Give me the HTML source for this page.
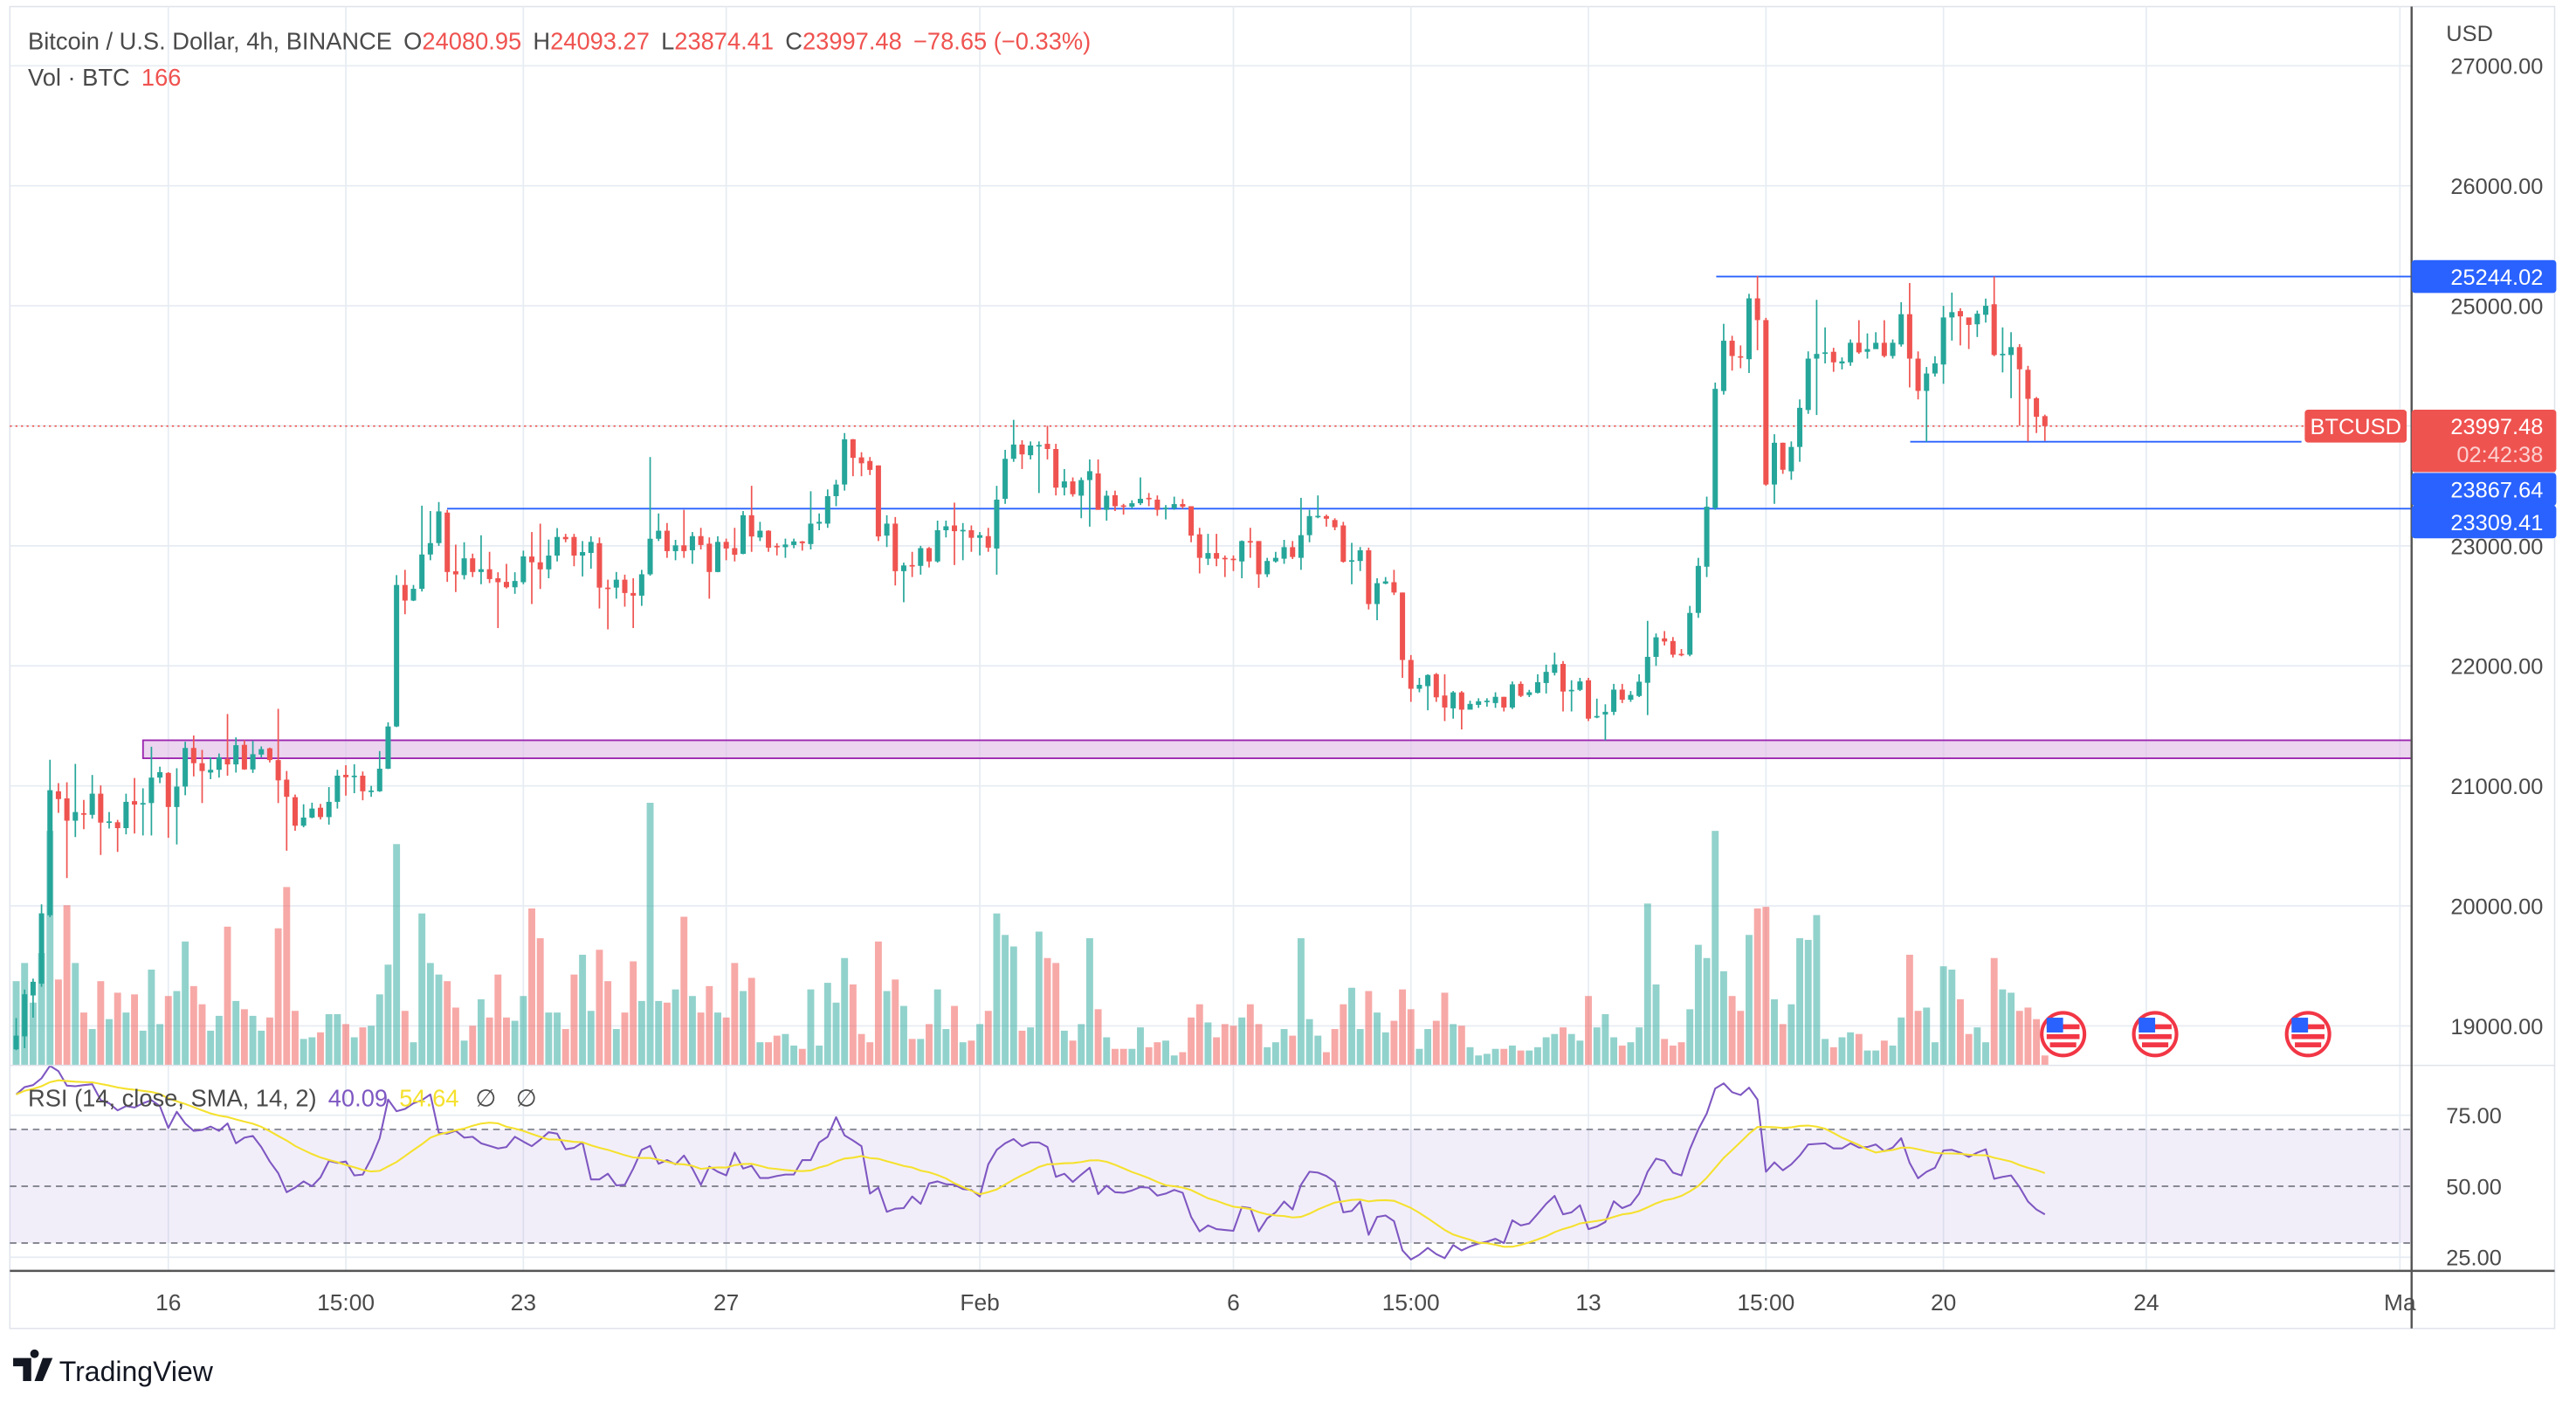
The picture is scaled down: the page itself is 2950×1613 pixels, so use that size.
<!DOCTYPE html>
<html><head><meta charset="utf-8"><title>BTCUSD 4h</title>
<style>
html,body{margin:0;padding:0;background:#fff;}
svg{display:block;font-family:"Liberation Sans",sans-serif;}
</style></head>
<body>
<svg id="chart" width="2950" height="1613" viewBox="0 0 1567 857" preserveAspectRatio="none" xmlns="http://www.w3.org/2000/svg">
<rect x="0" y="0" width="1567" height="857" fill="#fff"/>
<rect x="6" y="4" width="1548" height="804" fill="none" stroke="#e0e3eb" stroke-width="0.8"/>
<g id="grid"></g>
<rect id="rsiBand" x="6" y="684" width="1461" height="69" fill="#7e57c2" fill-opacity="0.1"/>
<g id="rsiLevels"></g>
<g id="vol"></g>
<g id="zones"></g>
<g id="candles"></g>
<g id="rsi"></g>
<line x1="6" y1="648" x2="1554" y2="648" stroke="#e0e3eb" stroke-width="0.8"/>
<line x1="6" y1="773" x2="1554" y2="773" stroke="#555" stroke-width="1.3"/>
<line x1="1467" y1="4" x2="1467" y2="808" stroke="#555" stroke-width="1.3"/>
<g id="axes"></g>
<g id="labels"></g>
<text x="17" y="30" font-size="14.5" fill="#4a4a4a">Bitcoin / U.S. Dollar, 4h, BINANCE<tspan dx="7">O</tspan><tspan fill="#ef5350">24080.95</tspan><tspan dx="7">H</tspan><tspan fill="#ef5350">24093.27</tspan><tspan dx="7">L</tspan><tspan fill="#ef5350">23874.41</tspan><tspan dx="7">C</tspan><tspan fill="#ef5350">23997.48</tspan><tspan dx="7" fill="#ef5350">−78.65 (−0.33%)</tspan></text>
<text x="17" y="52" font-size="14.5" fill="#4a4a4a">Vol · BTC<tspan dx="7" fill="#ef5350">166</tspan></text>
<text x="17" y="673" font-size="14.5" fill="#4a4a4a">RSI (14, close, SMA, 14, 2)<tspan dx="7" fill="#7e57c2">40.09</tspan><tspan dx="7" fill="#f5e12e">54.64</tspan><tspan dx="10">∅</tspan><tspan dx="12">∅</tspan></text>
<g>
<path d="M8 826 h11 v14 h-5 v-9 h-6 z M21 826 a2.6 2.6 0 1 1 0.01 0 z M26 826 h6 l-6 14 h-5 z" fill="#131722"/>
<text x="36" y="840" font-size="17" fill="#131722">TradingView</text>
</g>
</svg>
<script>
// ---- data ----
const opens=[18805,18913,19254,19352,19922,20955,20896,20710,20772,20759,20935,20697,20697,20648,20873,20847,20857,21069,21108,20824,20994,21316,21189,21111,21134,21225,21179,21342,21137,21261,21313,21215,21052,20906,20668,20736,20818,20740,20867,21092,21078,21085,20955,20955,21143,21495,22674,22544,22642,22928,23023,23277,22788,22756,22896,22782,22805,22730,22700,22655,22697,22911,22863,22804,22919,23074,23074,22919,22941,23022,22652,22652,22718,22607,22585,22763,23059,23126,22956,23004,22963,23081,23018,22782,23033,22981,22933,23255,23070,23126,23000,22989,23007,23037,23015,23185,23185,23414,23511,23888,23737,23707,23670,23085,23185,22789,22840,22833,22981,22870,23130,23170,23126,23130,23067,23081,22978,23392,23725,23844,23755,23836,23850,23807,23485,23537,23418,23548,23603,23300,23422,23337,23326,23355,23400,23385,23307,23315,23348,23330,23096,22893,22940,22900,22893,22870,23040,23040,22763,22870,22893,22989,22900,23089,23244,23248,23215,23170,22874,22874,22963,22515,22685,22697,22611,22049,21809,21831,21931,21753,21646,21779,21635,21675,21705,21690,21742,21653,21850,21757,21775,21857,21942,22016,21790,21800,21880,21575,21595,21617,21802,21718,21749,21859,22075,22229,22207,22100,22093,22441,22826,23317,24290,24709,24580,24555,25062,24881,23511,23859,23621,23824,24132,24560,24605,24617,24520,24529,24692,24617,24639,24692,24582,24678,24930,24560,24291,24436,24511,24903,24956,24903,24846,24925,25013,24594,24590,24656,24467,24230,24080.95];
const highs=[19066,19303,19394,20013,21218,21023,21030,21183,20883,21091,21004,20782,20717,20935,21066,20980,21326,21160,21114,21147,21368,21420,21300,21238,21270,21599,21404,21381,21374,21329,21319,21642,21124,20928,20847,20860,20850,20990,21134,21172,21180,21120,21000,21290,21530,22756,22800,22674,23335,23290,23365,23300,23010,23030,22935,23088,22950,22780,22850,22780,22960,23115,23185,23052,23148,23100,23100,23040,23080,23070,22718,22782,22760,22730,22800,23740,23270,23190,23050,23300,23115,23150,23070,23080,23060,23150,23290,23500,23200,23130,23022,23060,23060,23040,23455,23270,23470,23550,23940,23890,23780,23740,23670,23255,23240,22860,22950,23000,22990,23210,23210,23360,23190,23170,23115,23150,23500,23800,24050,23880,23870,23870,24000,23850,23640,23570,23570,23720,23720,23460,23460,23350,23380,23570,23440,23420,23340,23410,23390,23330,23150,23100,23100,22920,22920,23045,23150,23040,22900,22950,23050,23040,23400,23300,23420,23260,23230,23200,23025,22990,22985,22730,22740,22800,22611,22090,21900,21930,21940,21930,21790,21790,21710,21730,21730,21780,21742,21870,21870,21800,21930,22010,22110,22040,21880,21900,21900,21727,21680,21850,21850,21790,21930,22375,22270,22290,22240,22140,22500,22900,23410,24360,24850,24750,24670,25100,25250,24900,23930,23860,23870,24220,24620,25050,24820,24650,24570,24720,24880,24770,24780,24880,24720,25030,25190,24620,24490,24580,25000,25110,24980,24880,24960,25060,25244,24820,24780,24680,24500,24240,24093.27];
const lows=[18798,18815,19069,19326,19906,20775,20232,20574,20639,20727,20424,20645,20450,20596,20603,20587,20587,21023,20567,20512,20922,21079,20857,21056,21069,21085,21111,21134,21108,21238,21195,20857,20460,20626,20655,20730,20720,20677,20811,20919,20939,20880,20909,20950,21140,21490,22430,22540,22620,22880,23000,22700,22615,22720,22740,22680,22690,22315,22645,22600,22680,22515,22641,22730,22870,23030,22830,22745,22810,22478,22304,22560,22493,22315,22500,22752,23040,22900,22880,22900,22850,22970,22560,22780,22880,22870,22930,22950,23040,22950,22920,22900,22980,22960,22970,23130,23150,23330,23460,23580,23580,23590,23040,22990,22670,22530,22740,22760,22820,22860,23070,22840,22880,22950,22920,22950,22760,23350,23700,23640,23720,23440,23720,23420,23420,23410,23230,23160,23300,23210,23290,23260,23310,23340,23330,23250,23220,23300,23310,23030,22770,22840,22830,22740,22790,22730,22900,22650,22740,22860,22850,22890,22800,23030,23230,23160,23130,22860,22680,22790,22470,22380,22680,22590,21900,21700,21780,21630,21700,21540,21560,21470,21640,21650,21660,21650,21620,21640,21740,21740,21770,21770,21920,21620,21620,21790,21540,21564,21380,21590,21690,21700,21740,21590,22000,22170,22070,22080,22080,22400,22740,23300,24260,24460,24480,24440,24630,23500,23350,23600,23550,23700,24100,24090,24520,24450,24470,24500,24600,24560,24650,24570,24560,24660,24320,24220,23867.64,24410,24350,24710,24670,24640,24740,24860,24580,24445,24230,24000,23870,23940,23874.41];
const closes=[18919,19264,19368,19938,20964,20890,20710,20782,20766,20935,20694,20704,20648,20867,20844,20857,21069,21114,20824,20994,21316,21189,21124,21134,21238,21179,21339,21137,21264,21306,21215,21046,20909,20668,20736,20811,20740,20867,21085,21072,21085,20955,20961,21143,21495,22674,22544,22642,22928,23023,23287,22782,22762,22896,22782,22805,22723,22697,22655,22707,22912,22863,22804,22919,23074,23055,22919,22948,23033,22652,22645,22718,22607,22585,22763,23059,23126,22956,23004,22956,23081,23007,22782,23033,22978,22926,23255,23078,23126,22985,22989,23011,23037,23022,23185,23200,23414,23511,23888,23733,23688,23633,23078,23185,22789,22837,22833,22981,22870,23130,23163,23122,23133,23067,23089,22985,23385,23725,23844,23762,23836,23840,23807,23485,23537,23430,23548,23622,23300,23418,23330,23330,23355,23392,23389,23300,23318,23348,23326,23085,22900,22940,22893,22896,22889,23040,23033,22763,22874,22900,22989,22907,23089,23248,23250,23226,23155,22867,22880,22963,22515,22689,22704,22611,22049,21809,21842,21924,21738,21653,21779,21635,21683,21705,21710,21742,21653,21846,21750,21780,21864,21950,22012,21786,21800,21870,21560,21582,21617,21802,21718,21758,21868,22075,22238,22203,22093,22093,22441,22833,23326,24308,24709,24582,24570,25062,24881,23511,23859,23634,23824,24150,24560,24599,24612,24529,24537,24692,24612,24639,24692,24582,24692,24930,24560,24291,24436,24520,24903,24947,24912,24841,24934,25000,24590,24600,24656,24471,24225,24075,23997.48];
const volumes=[51,62,38,68,142,52,97,62,32,22,51,28,44,32,43,21,58,25,42,45,75,48,37,21,30,84,39,34,30,21,29,83,108,33,16,17,20,31,31,25,17,23,24,43,61,134,33,14,92,62,55,51,35,15,24,40,29,55,29,27,42,95,77,32,32,22,55,67,33,70,51,22,32,63,39,159,39,38,46,90,42,32,48,32,29,62,45,53,14,14,18,19,12,10,46,12,50,38,65,49,19,14,75,45,52,36,16,16,25,46,22,36,14,15,25,33,92,79,72,21,23,81,65,62,21,15,25,77,34,17,10,10,10,23,11,14,15,6,8,29,37,26,17,25,24,29,37,25,11,14,22,18,77,28,18,8,22,37,47,22,45,32,20,27,46,34,10,22,27,44,25,24,11,6,7,10,10,12,9,9,11,17,19,23,19,15,42,23,31,17,12,14,23,98,49,16,12,14,34,73,65,142,57,42,33,79,95,96,40,25,37,77,76,91,16,11,17,20,19,9,9,15,12,29,67,33,35,14,60,58,40,19,23,14,65,46,44,33,35,28,6];
const rsiValues=[82.3,84.9,85.6,88.0,92.4,90.5,85.4,85.2,85.6,85.9,80.3,79.2,76.7,78.2,77.7,79.2,80.3,78.2,70.5,76.2,72.1,69.5,69.8,71.0,69.5,72.1,65.1,67.1,67.7,63.8,58.7,54.6,47.9,49.5,51.7,50.0,53.1,58.9,58.2,58.7,53.8,54.1,59.7,66.9,80.5,76.4,77.2,79.2,80.3,82.3,68.8,68.5,69.5,67.1,67.4,65.1,64.2,63.3,63.8,67.4,65.7,64.1,66.4,69.0,68.5,63.0,63.5,65.4,52.4,52.4,54.4,50.3,50.5,56.2,62.8,64.2,57.9,59.2,57.7,60.8,56.2,50.5,56.9,55.1,53.8,61.8,56.2,57.2,52.9,52.9,53.6,54.1,54.1,59.2,59.2,65.4,67.4,74.3,67.9,66.1,64.1,47.4,49.5,41.0,42.1,42.3,46.4,43.8,51.0,51.7,50.7,50.5,49.0,48.7,46.4,57.7,62.8,65.1,66.6,64.1,65.4,65.4,63.8,53.3,54.4,51.5,54.1,56.5,47.2,50.2,47.9,47.7,48.5,49.7,49.5,46.7,47.4,48.7,47.7,39.2,34.1,36.2,34.9,34.6,34.3,42.7,42.3,34.1,38.7,40.8,44.6,41.8,50.5,55.1,54.8,53.6,51.5,40.8,41.3,44.6,32.9,39.2,39.7,37.7,27.4,24.2,25.9,28.3,26.1,24.7,29.3,27.4,28.8,29.8,30.5,31.5,30.0,38.0,36.2,36.9,40.3,43.8,46.6,40.1,40.8,43.3,34.9,35.8,37.4,44.7,42.3,43.5,47.4,55.1,59.7,58.9,54.8,53.8,63.0,70.0,75.6,84.4,86.2,83.1,82.1,84.7,80.5,55.1,58.4,55.6,57.7,60.8,64.7,64.9,65.1,63.3,63.3,65.1,63.6,63.8,64.7,62.3,63.6,66.9,58.2,52.8,55.1,56.5,62.6,62.8,61.8,60.3,61.8,63.0,52.6,53.3,53.8,49.7,44.6,41.8,40.09];
const priceTicks=[27000,26000,25000,24000,23000,22000,21000,20000,19000];
const priceTickLabels=["27000.00","26000.00","25000.00","","23000.00","22000.00","21000.00","20000.00","19000.00"];
const rsiTicks=[75,25];
const rsiTickLabels=["75.00","50.00","25.00"];
const rsiLabelVals=[75,50,25];
const dateTickCandles=[18,39,60,84,114,144,165,186,207,228,252,282];
const dateTickLabels=["16","15:00","23","27","Feb","6","15:00","13","15:00","20","24","Ma"];
const hLevels=[25244.02,23867.64,23309.41];
const zoneTop=21380, zoneBottom=21230;
const lastPrice=23997.48;

// ---- scales ----
const NS="http://www.w3.org/2000/svg";
const AX=1467;
function xOf(i){return 9.84+5.142*i;}
function yP(p){return 40+(27000-p)*0.073;}
function yV(v){return 648-v*1.0045;}
function yR(v){return 721.5-(v-50)*1.728;}
function mk(tag,attrs,parent){const e=document.createElementNS(NS,tag);for(const k in attrs)e.setAttribute(k,attrs[k]);parent.appendChild(e);return e;}
const G=id=>document.getElementById(id);
const GREEN="#26a69a",RED="#ef5350";

const band=G('rsiBand');band.setAttribute('y',yR(70));band.setAttribute('height',yR(30)-yR(70));

// grid
const grid=G('grid');
priceTicks.forEach((p,k)=>{const l=mk('line',{x1:6,x2:AX,y1:yP(p),y2:yP(p),stroke:'#e6ecf2','stroke-width':0.9},grid);

});
rsiTicks.forEach(v=>{const l=mk('line',{x1:6,x2:AX,y1:yR(v),y2:yR(v),stroke:'#e6ecf2','stroke-width':0.9},grid);

});
dateTickCandles.forEach(c=>{const l=mk('line',{x1:xOf(c),x2:xOf(c),y1:4,y2:773,stroke:'#e6ecf2','stroke-width':0.9},grid);

});

// rsi dashed levels
[70,50,30].forEach(v=>{const l=mk('line',{x1:6,x2:AX,y1:yR(v),y2:yR(v),stroke:'#787b86','stroke-width':0.9,'stroke-dasharray':'4 3'},G('rsiLevels'));

});

// volume
volumes.forEach((v,i)=>{const up=closes[i]>=opens[i];
const r=mk('rect',{x:xOf(i)-2.1,y:yV(v),width:4.2,height:648-yV(v),fill:up?GREEN:RED,'fill-opacity':0.5},G('vol'));

});

// drawings
const z=G('zones');
const zr=mk('rect',{x:87,y:yP(zoneTop),width:AX-87,height:yP(zoneBottom)-yP(zoneTop),fill:'#e1bee7','fill-opacity':0.65,stroke:'#9c27b0','stroke-width':1},z);


const hx1=[1044,1162,272],hx2=[AX,1400,AX];
hLevels.forEach((p,k)=>{const l=mk('line',{x1:hx1[k],x2:hx2[k],y1:yP(p),y2:yP(p),stroke:'#2962ff','stroke-width':1},z);

});
const pl=mk('line',{x1:6,x2:1402,y1:yP(lastPrice),y2:yP(lastPrice),stroke:RED,'stroke-width':0.9,'stroke-dasharray':'1.2 2.2'},z);



// candles
const cg=G('candles');
closes.forEach((c,i)=>{const o=opens[i],up=c>=o,col=up?GREEN:RED,x=xOf(i);
const w=mk('line',{x1:x,x2:x,y1:yP(highs[i]),y2:yP(lows[i]),stroke:col,'stroke-width':0.9},cg);


const t=yP(Math.max(o,c)),b=yP(Math.min(o,c));
const r=mk('rect',{x:x-1.6,y:t,width:3.2,height:Math.max(0.9,b-t),fill:col},cg);

});

// rsi + sma
const sma=rsiValues.map((v,i)=>{const s=rsiValues.slice(Math.max(0,i-13),i+1);return s.reduce((a,b)=>a+b,0)/s.length;});
const rp=mk('polyline',{points:rsiValues.map((v,i)=>xOf(i)+','+yR(v)).join(' '),fill:'none',stroke:'#7e57c2','stroke-width':1.1,'stroke-linejoin':'round'},G('rsi'));


const sp=mk('polyline',{points:sma.map((v,i)=>xOf(i)+','+yR(v)).join(' '),fill:'none',stroke:'#f5e12e','stroke-width':1.1},G('rsi'));



// axes labels
const ax=G('axes');
const usd=mk('text',{x:1488,y:25,'font-size':13.5,fill:'#4a4a4a'},ax);usd.textContent='USD';


priceTicks.forEach((p,k)=>{if(!priceTickLabels[k])return;const t=mk('text',{x:1547,y:yP(p)+5,'font-size':13.5,fill:'#4a4a4a','text-anchor':'end'},ax);t.textContent=priceTickLabels[k];

});
rsiLabelVals.forEach((v,k)=>{const t=mk('text',{x:1488,y:yR(v)+5,'font-size':13.5,fill:'#4a4a4a'},ax);t.textContent=rsiTickLabels[k];

});
dateTickCandles.forEach((c,k)=>{const t=mk('text',{x:xOf(c),y:797,'font-size':14,fill:'#4a4a4a','text-anchor':'middle'},ax);t.textContent=dateTickLabels[k];

});

// price tags
const lb=G('labels');
function tag(y,h,fill,lines,name){const g=mk('g',{},lb);


mk('rect',{x:AX,y:y,width:88,height:h,rx:2,fill:fill},g);
lines.forEach((s,k)=>{const t=mk('text',{x:1547,y:y+15+k*17,'font-size':13.5,fill:k?'#fbd1d0':'#fff','text-anchor':'end'},g);t.textContent=s;});}
tag(yP(hLevels[0])-10,20,'#2962ff',[hLevels[0].toFixed(2)],'level-tag-high');
tag(yP(lastPrice)-10,38,RED,[lastPrice.toFixed(2),'02:42:38'],'last-price-tag');
tag(yP(hLevels[1])+19,20,'#2962ff',[hLevels[1].toFixed(2)],'level-tag-mid');
tag(yP(hLevels[2])-2,20,'#2962ff',[hLevels[2].toFixed(2)],'level-tag-low');
const bt=mk('g',{},lb);


mk('rect',{x:1402,y:yP(lastPrice)-10,width:62,height:20,rx:2,fill:RED},bt);
const btt=mk('text',{x:1433,y:yP(lastPrice)+5,'font-size':13.5,fill:'#fff','text-anchor':'middle'},bt);btt.textContent='BTCUSD';

// event flags
[1255,1311,1404].forEach(x=>{const g=mk('g',{},lb);


mk('circle',{cx:x,cy:629,r:13,fill:'#fff',stroke:'#f23645','stroke-width':2.2},g);
mk('rect',{x:x-10,y:623,width:20,height:3,fill:'#f23645'},g);
mk('rect',{x:x-10,y:629,width:20,height:3,fill:'#f23645'},g);
mk('rect',{x:x-8,y:634,width:16,height:3,fill:'#f23645'},g);
mk('rect',{x:x-10,y:619,width:10,height:9,fill:'#2962ff'},g);});
</script>
</body></html>
